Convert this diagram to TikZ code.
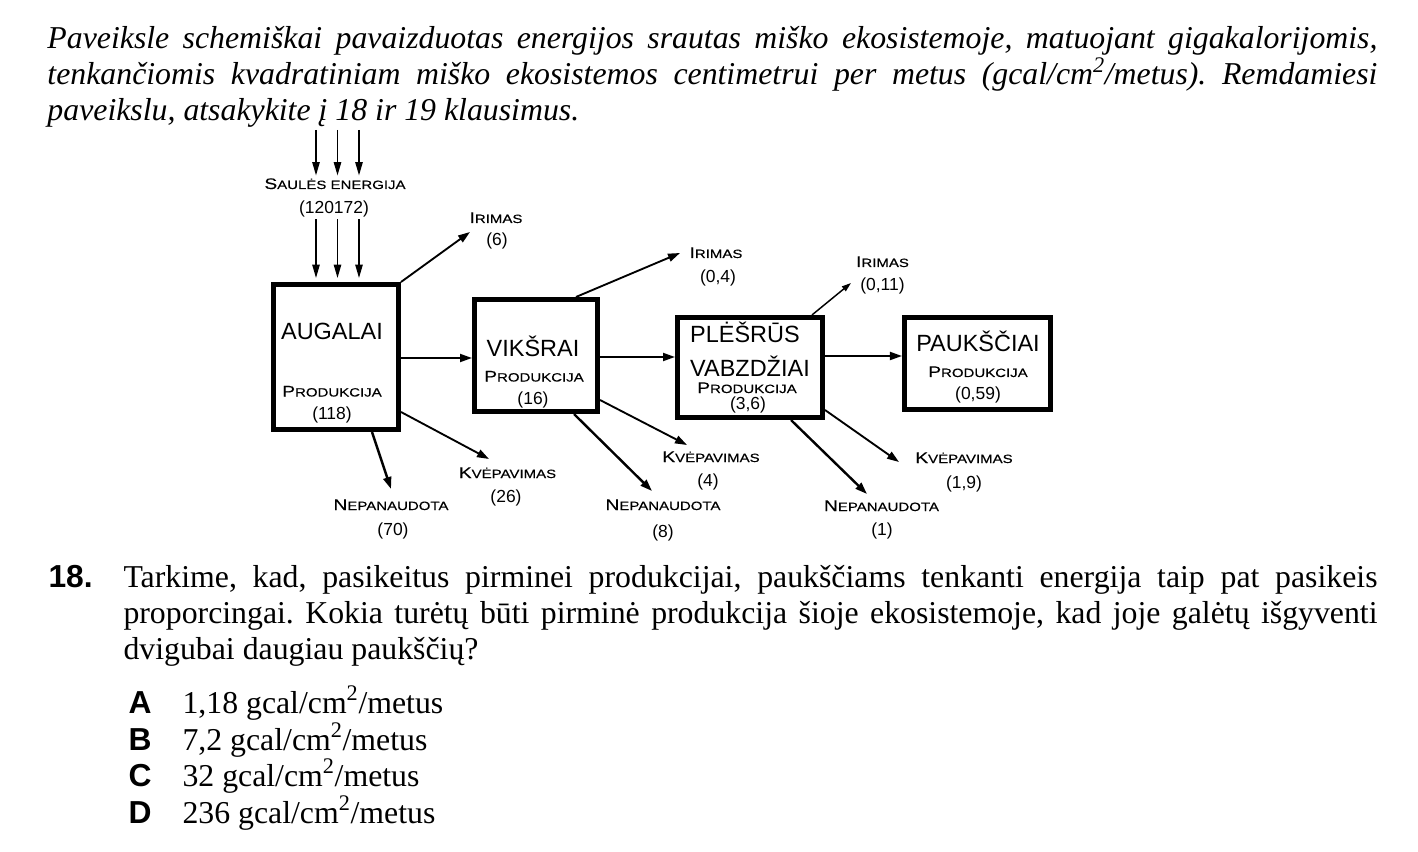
\documentclass[tikz,border=0pt]{standalone}
\usepackage{fontspec}
\setmainfont{Liberation Serif}
\newfontfamily\arialfont{Liberation Sans}
\newfontfamily\capsfont[FakeStretch=1.25,FakeBold=0.3]{Liberation Sans}
\usetikzlibrary{arrows.meta}

\hyphenpenalty=10000
\exhyphenpenalty=10000
\frenchspacing

% small caps of the diagram labels
\newcommand{\capsl}[2]{{\capsfont\fontsize{11.5}{13}\selectfont #1\fontsize{9}{13}\selectfont #2}}

\tikzset{every picture/.style={line width=0.75pt}}
\tikzset{
  orgbox/.style={draw, line width=4pt, inner sep=0pt},
  flow/.style={line width=1.4pt, -{Triangle[length=9pt,width=6pt]}},
  bigflow/.style={flow, line width=1.8pt},
  sunflow/.style={line width=1.1pt, -{Triangle[length=10pt,width=5.5pt]}},
  ttl/.style={inner sep=0.75pt, anchor=base, font=\arialfont\fontsize{17.6}{21}\selectfont},
  lbl/.style={inner sep=0.75pt, anchor=base},
  num/.style={inner sep=0.75pt, anchor=base, font=\arialfont\fontsize{13.1}{15}\selectfont},
  para/.style={inner sep=0pt, anchor=base west, align=justify, font=\fontsize{23.85}{27}\selectfont},
  optl/.style={inner sep=0pt, anchor=base west, font=\arialfont\bfseries\fontsize{23.85}{27}\selectfont},
  optt/.style={inner sep=0pt, anchor=base west, font=\fontsize{23.85}{27}\selectfont}
}

\begin{document}
\begin{tikzpicture}[x=0.75pt,y=0.75pt,yscale=-1,xscale=1]
\useasboundingbox (0,0) rectangle (1418,852);

% Text Node: intro
\draw (47,49) node [para, text width=997.5pt, font=\itshape\fontsize{23.85}{27}\selectfont] (intro) {Paveiksle schemiškai pavaizduotas energijos srautas miško ekosistemoje, matuojant gigakalorijomis, \linebreak tenkančiomis kvadratiniam miško ekosistemos centimetrui per metus (gcal/cm\textsuperscript{2}/metus). Remdamiesi \linebreak paveikslu, atsakykite į 18 ir 19 klausimus.};

%Shape: Box [augalai]
\draw (336,357) node [orgbox, minimum width=93.5pt, minimum height=108.5pt] (aug) {};
%Shape: Box [vikšrai]
\draw (536,355.5) node [orgbox, minimum width=92pt, minimum height=83.8pt] (vik) {};
%Shape: Box [plėšrūs vabzdžiai]
\draw (750,367.5) node [orgbox, minimum width=108.5pt, minimum height=74.8pt] (ple) {};
%Shape: Box [paukščiai]
\draw (977.5,363.5) node [orgbox, minimum width=109.3pt, minimum height=68.8pt] (pau) {};

% Text Node: box texts
\draw (332,340) node [ttl] (augt) {AUGALAI};
\draw (332,396.5) node [lbl] (augp) {\capsl{P}{RODUKCIJA}};
\draw (332,420) node [num] (augn) {(118)};
\draw (533,356.5) node [ttl] (vikt) {VIKŠRAI};
\draw (534,381.5) node [lbl] (vikp) {\capsl{P}{RODUKCIJA}};
\draw (533,405) node [num] (vikn) {(16)};
\draw (745,343) node [ttl] (plet) {PLĖŠRŪS};
\draw (750,377) node [ttl] (plev) {VABZDŽIAI};
\draw (747,393) node [lbl] (plep) {\capsl{P}{RODUKCIJA}};
\draw (748,410) node [num] (plen) {(3,6)};
\draw (978,351.5) node [ttl] (paut) {PAUKŠČIAI};
\draw (978,377) node [lbl] (paup) {\capsl{P}{RODUKCIJA}};
\draw (978,400) node [num] (paun) {(0,59)};

% Text Node: flow labels
\draw (335,189) node [lbl] (sunt) {\capsl{S}{AULĖS ENERGIJA}};
\draw (334,214) node [num] (sunn) {(120172)};
\draw (496,223) node [lbl] (ir1t) {\capsl{I}{RIMAS}};
\draw (497,246) node [num] (ir1n) {(6)};
\draw (716,258) node [lbl] (ir2t) {\capsl{I}{RIMAS}};
\draw (718,283) node [num] (ir2n) {(0,4)};
\draw (882.5,267) node [lbl] (ir3t) {\capsl{I}{RIMAS}};
\draw (882.5,291) node [num] (ir3n) {(0,11)};
\draw (507.5,478) node [lbl] (kv1t) {\capsl{K}{VĖPAVIMAS}};
\draw (506,502) node [num] (kv1n) {(26)};
\draw (391,510) node [lbl] (ne1t) {\capsl{N}{EPANAUDOTA}};
\draw (393,535) node [num] (ne1n) {(70)};
\draw (711,462) node [lbl] (kv2t) {\capsl{K}{VĖPAVIMAS}};
\draw (708,486) node [num] (kv2n) {(4)};
\draw (663,510) node [lbl] (ne2t) {\capsl{N}{EPANAUDOTA}};
\draw (663,537) node [num] (ne2n) {(8)};
\draw (964,463) node [lbl] (kv3t) {\capsl{K}{VĖPAVIMAS}};
\draw (964,488) node [num] (kv3n) {(1,9)};
\draw (881.5,511) node [lbl] (ne3t) {\capsl{N}{EPANAUDOTA}};
\draw (882,535) node [num] (ne3n) {(1)};

% free ends of the arrows
\coordinate (s1) at (316,130);
\coordinate (s2) at (337.5,130);
\coordinate (s3) at (359,130);
\coordinate (ir1e) at (470,232);
\coordinate (ir2e) at (680,253);
\coordinate (ir3e) at (851,283);
\coordinate (kv1e) at (489,459);
\coordinate (ne1e) at (391,489);
\coordinate (kv2e) at (687,445);
\coordinate (ne2e) at (652,491);
\coordinate (kv3e) at (899,462);
\coordinate (ne3e) at (867,494);

%Straight Lines: sunlight
\draw [sunflow, shorten >=1pt] (s1) -- (s1 |- sunt.north);
\draw [sunflow, shorten >=1pt] (s2) -- (s2 |- sunt.north);
\draw [sunflow, shorten >=1pt] (s3) -- (s3 |- sunt.north);
\draw [sunflow, shorten >=3pt] (sunn.south -| s1) -- (s1 |- aug.north);
\draw [sunflow, shorten >=3pt] (sunn.south -| s2) -- (s2 |- aug.north);
\draw [sunflow, shorten >=3pt] (sunn.south -| s3) -- (s3 |- aug.north);

%Straight Lines: food chain
\draw [flow] (aug.east |- 0,358) -- (vik.west |- 0,358);
\draw [flow] (vik.east |- 0,357) -- (ple.west |- 0,357);
\draw [flow] (ple.east |- 0,356) -- (pau.west |- 0,356);

%Straight Lines: losses
\draw [flow] (aug.north east) -- (ir1e);
\draw [flow] (aug.east |- 0,412) -- (kv1e);
\draw [bigflow] (aug.south -| 372,0) -- (ne1e);
\draw [flow] (vik.north -| 576,0) -- (ir2e);
\draw [flow] (vik.east |- 0,400) -- (kv2e);
\draw [bigflow] (vik.south -| 574,0) -- (ne2e);
\draw [flow, line width=1.1pt, -{Triangle[length=7pt,width=4.5pt]}] (ple.north -| 812,0) -- (ir3e);
\draw [flow] (ple.east |- 0,410) -- (kv3e);
\draw [bigflow] (ple.south -| 791,0) -- (ne3e);

% Text Node: question 18
\draw (48,587) node [optl] (q18) {18.};
\draw (123,587) node [para, text width=940.5pt] (q18t) {Tarkime, kad, pasikeitus pirminei produkcijai, paukščiams tenkanti energija taip pat pasikeis \linebreak proporcingai. Kokia turėtų būti pirminė produkcija šioje ekosistemoje, kad joje galėtų išgyventi \linebreak dvigubai daugiau paukščių?};

% Text Node: options
\draw (128,713) node [optl] (oa) {A};
\draw (182,713) node [optt] (ta) {1,18 gcal/cm\textsuperscript{2}/metus};
\draw (128,750) node [optl] (ob) {B};
\draw (182,750) node [optt] (tb) {7,2 gcal/cm\textsuperscript{2}/metus};
\draw (128,786) node [optl] (oc) {C};
\draw (182,786) node [optt] (tc) {32 gcal/cm\textsuperscript{2}/metus};
\draw (128,823) node [optl] (od) {D};
\draw (182,823) node [optt] (td) {236 gcal/cm\textsuperscript{2}/metus};
\end{tikzpicture}
\end{document}
